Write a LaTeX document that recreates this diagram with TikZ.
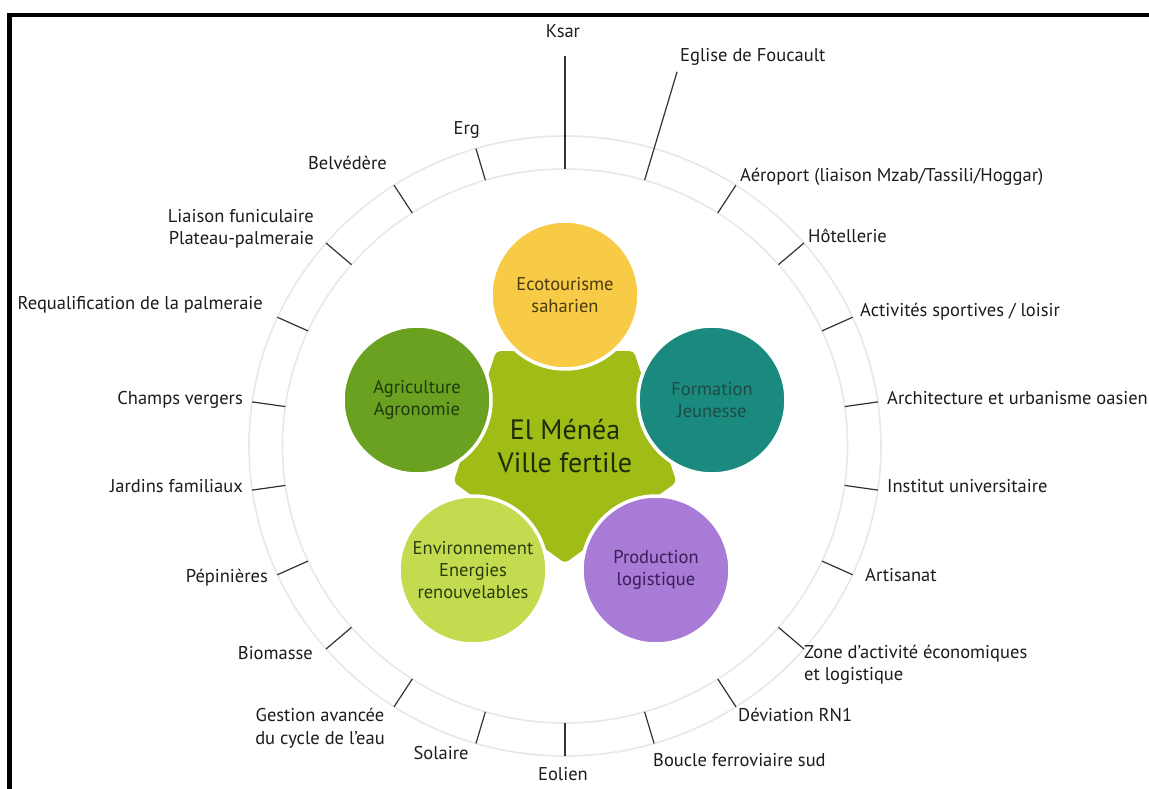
\documentclass[tikz,border=0pt]{standalone}
\usepackage{fontspec}
\setmainfont{PT Sans}
\usetikzlibrary{shapes.geometric}
\definecolor{labelc}{HTML}{1C1C1C}
\definecolor{ringc}{HTML}{E8E8E8}
\definecolor{tickc}{HTML}{333333}
\definecolor{ecoc}{HTML}{F7CB45}
\definecolor{ecot}{HTML}{4A3A12}
\definecolor{formc}{HTML}{1B8A7E}
\definecolor{formt}{HTML}{1E4B46}
\definecolor{prodc}{HTML}{A77BD6}
\definecolor{prodt}{HTML}{3A1E5A}
\definecolor{envc}{HTML}{C3DC4F}
\definecolor{envt}{HTML}{2E3A0E}
\definecolor{agric}{HTML}{6AA121}
\definecolor{agrit}{HTML}{1F3A0C}
\definecolor{hubc}{HTML}{A0BC17}
\definecolor{hubt}{HTML}{1F2A08}
\begin{document}
\begin{tikzpicture}[x=1pt,y=-1pt,
  lbl/.style={inner sep=0pt, text=labelc, font=\fontsize{18.5}{22.5}\selectfont},
  one/.style={text height=13pt, text depth=4.5pt},
  ring/.style={draw=ringc, line width=1.6pt},
  tick/.style={draw=tickc, line width=1.2pt},
  bubble/.style={circle, minimum size=148pt, inner sep=0pt, draw=white, line width=3.5pt, align=center, font=\fontsize{18.5}{22}\selectfont},
  frame/.style={draw=black, line width=4.5pt}
]
\useasboundingbox (0,0) rectangle (1149,789);
\fill[white] (0,0) rectangle (1149,789);
\draw[frame] (9.5,800) -- (9.5,15) -- (1160,15);
\coordinate (c) at (565,446);
% rings
\draw[ring] (c) ellipse [x radius=282.5, y radius=277];
\draw[ring] (c) ellipse [x radius=316, y radius=310];
% ticks
\foreach \i in {0,...,21}{
  \pgfmathsetmacro\a{90-\i*360/22}
  \pgfmathsetmacro\ro{\i<2 ? 390 : 310}
  \coordinate (ti\i) at ({565+1.02*277*cos(\a)},{446-277*sin(\a)});
  \coordinate (to\i) at ({565+1.02*\ro*cos(\a)},{446-\ro*sin(\a)});
  \draw[tick] (ti\i) -- (to\i);
}
% hub
\node[regular polygon, regular polygon sides=5, shape border rotate=180,
  minimum size=216pt, fill=hubc, rounded corners=4pt, inner sep=0pt,
  text=hubt, align=center, font=\fontsize{28}{33}\selectfont] (hub) at (c) {El Ménéa\\Ville fertile};
% bubbles
\node[bubble, fill=ecoc, text=ecot] (eco) at (565,295) {Ecotourisme\\saharien};
\node[bubble, fill=formc, text=formt] (form) at (712,400) {Formation\\Jeunesse};
\node[bubble, fill=prodc, text=prodt] (prod) at (656,570) {Production\\logistique};
\node[bubble, fill=envc, text=envt] (env) at (473,570) {Environnement\\Energies\\renouvelables};
\node[bubble, fill=agric, text=agrit] (agri) at (417,400) {Agriculture\\Agronomie};
% labels
\node[lbl,one] (ksar) at (563,33) {Ksar};
\node[lbl,one,anchor=west] (eglise) at (680,57) {Eglise de Foucault};
\node[lbl,one,anchor=west] (aero) at (740,177) {Aéroport (liaison Mzab/Tassili/Hoggar)};
\node[lbl,one,anchor=west] (hotel) at (808,238) {Hôtellerie};
\node[lbl,one,anchor=west] (sport) at (860,312) {Activités sportives / loisir};
\node[lbl,one,anchor=west] (archi) at (887,400) {Architecture et urbanisme oasien};
\node[lbl,one,anchor=west] (inst) at (887,488) {Institut universitaire};
\node[lbl,one,anchor=west] (artis) at (865,577) {Artisanat};
\node[lbl,anchor=west,align=left] (zone) at (804,665) {Zone d’activité économiques\\et logistique};
\node[lbl,one,anchor=west] (devia) at (738,717) {Déviation RN1};
\node[lbl,one,anchor=west] (boucle) at (653,762) {Boucle ferroviaire sud};
\node[lbl,one] (eolien) at (563,776) {Eolien};
\node[lbl,one] (solaire) at (441,755) {Solaire};
\node[lbl,align=center] (gestion) at (320,728) {Gestion avancée\\du cycle de l’eau};
\node[lbl,one,anchor=east] (bio) at (313,655) {Biomasse};
\node[lbl,one,anchor=east] (pepi) at (268,578) {Pépinières};
\node[lbl,one,anchor=east] (jardins) at (243,488) {Jardins familiaux};
\node[lbl,one,anchor=east] (champs) at (243,400) {Champs vergers};
\node[lbl,one,anchor=east] (requal) at (263,305) {Requalification de la palmeraie};
\node[lbl,anchor=east,align=right] (liaison) at (314,229) {Liaison funiculaire\\Plateau-palmeraie};
\node[lbl,one,anchor=east] (belv) at (387,165) {Belvédère};
\node[lbl,one,anchor=east] (erg) at (480,130) {Erg};
\end{tikzpicture}
\end{document}
